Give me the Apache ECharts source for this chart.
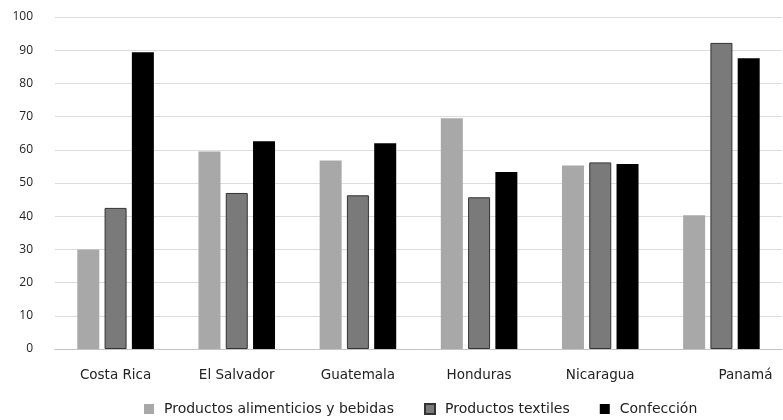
<!DOCTYPE html>
<html>
<head>
<meta charset="utf-8">
<script src="https://cdn.jsdelivr.net/npm/echarts@6/dist/echarts.min.js"></script>
<style>
  html, body { margin: 0; padding: 0; background: #fff; }
  #myCharts { width: 783px; height: 420px; }
</style>
</head>
<body>
<div id="myCharts"></div>
<script>
// datos
const paises = ["Costa Rica", "El Salvador", "Guatemala", "Honduras", "Nicaragua", "Panamá"];
const alimenticios = [30, 59.5, 56.8, 69.5, 55.3, 40.3];
const textiles = [42.5, 47, 46.3, 45.7, 56.2, 92.2];
const confeccion = [89.4, 62.6, 62, 53.3, 55.7, 87.6];
const nombres = ["Productos alimenticios y bebidas", "Productos textiles", "Confección"];

const myCharts = echarts.init(document.getElementById("myCharts"));
const fuente = "DejaVu Sans";

// la etiqueta de Panamá va corrida a la derecha en el original
const categorias = paises.map(function (p, i) {
  if (i === paises.length - 1) {
    return { value: p, textStyle: { padding: [0, 0, 0, 48] } };
  }
  return p;
});

let option = {
  animation: false,
  textStyle: { fontFamily: fuente },
  grid: {
    left: 55,
    right: 1,
    top: 17,
    bottom: 71,
  },
  legend: {
    left: 144,
    top: 402,
    padding: 0,
    icon: "rect",
    itemWidth: 10,
    itemHeight: 10,
    itemGap: 30,
    textStyle: { color: "#222", fontSize: 14, fontFamily: fuente, padding: [0, 0, 0, 5] },
    data: nombres,
  },
  xAxis: {
    type: "category",
    data: categorias,
    axisLine: { lineStyle: { color: "#c4c4c4" } },
    axisTick: { show: false },
    axisLabel: {
      color: "#222",
      fontSize: 13.5,
      margin: 19,
      interval: 0,
    },
  },
  yAxis: {
    type: "value",
    min: 0,
    max: 100,
    interval: 10,
    axisLine: { show: false },
    axisTick: { show: false },
    axisLabel: { color: "#222", fontSize: 12, margin: 22, fontFamily: "Open Sans" },
    splitLine: { lineStyle: { color: "#dcdcdc", width: 1 } },
  },
  series: [
    {
      name: nombres[0],
      type: "bar",
      barWidth: 22,
      barGap: "24%",
      itemStyle: { color: "#a8a8a8" },
      data: alimenticios,
    },
    {
      name: nombres[1],
      type: "bar",
      barWidth: 22,
      barGap: "24%",
      itemStyle: { color: "#7a7a7a", borderColor: "#333", borderWidth: 1 },
      data: textiles,
    },
    {
      name: nombres[2],
      type: "bar",
      barWidth: 22,
      barGap: "24%",
      itemStyle: { color: "#000" },
      data: confeccion,
    },
  ],
};

myCharts.setOption(option);
</script>
</body>
</html>
